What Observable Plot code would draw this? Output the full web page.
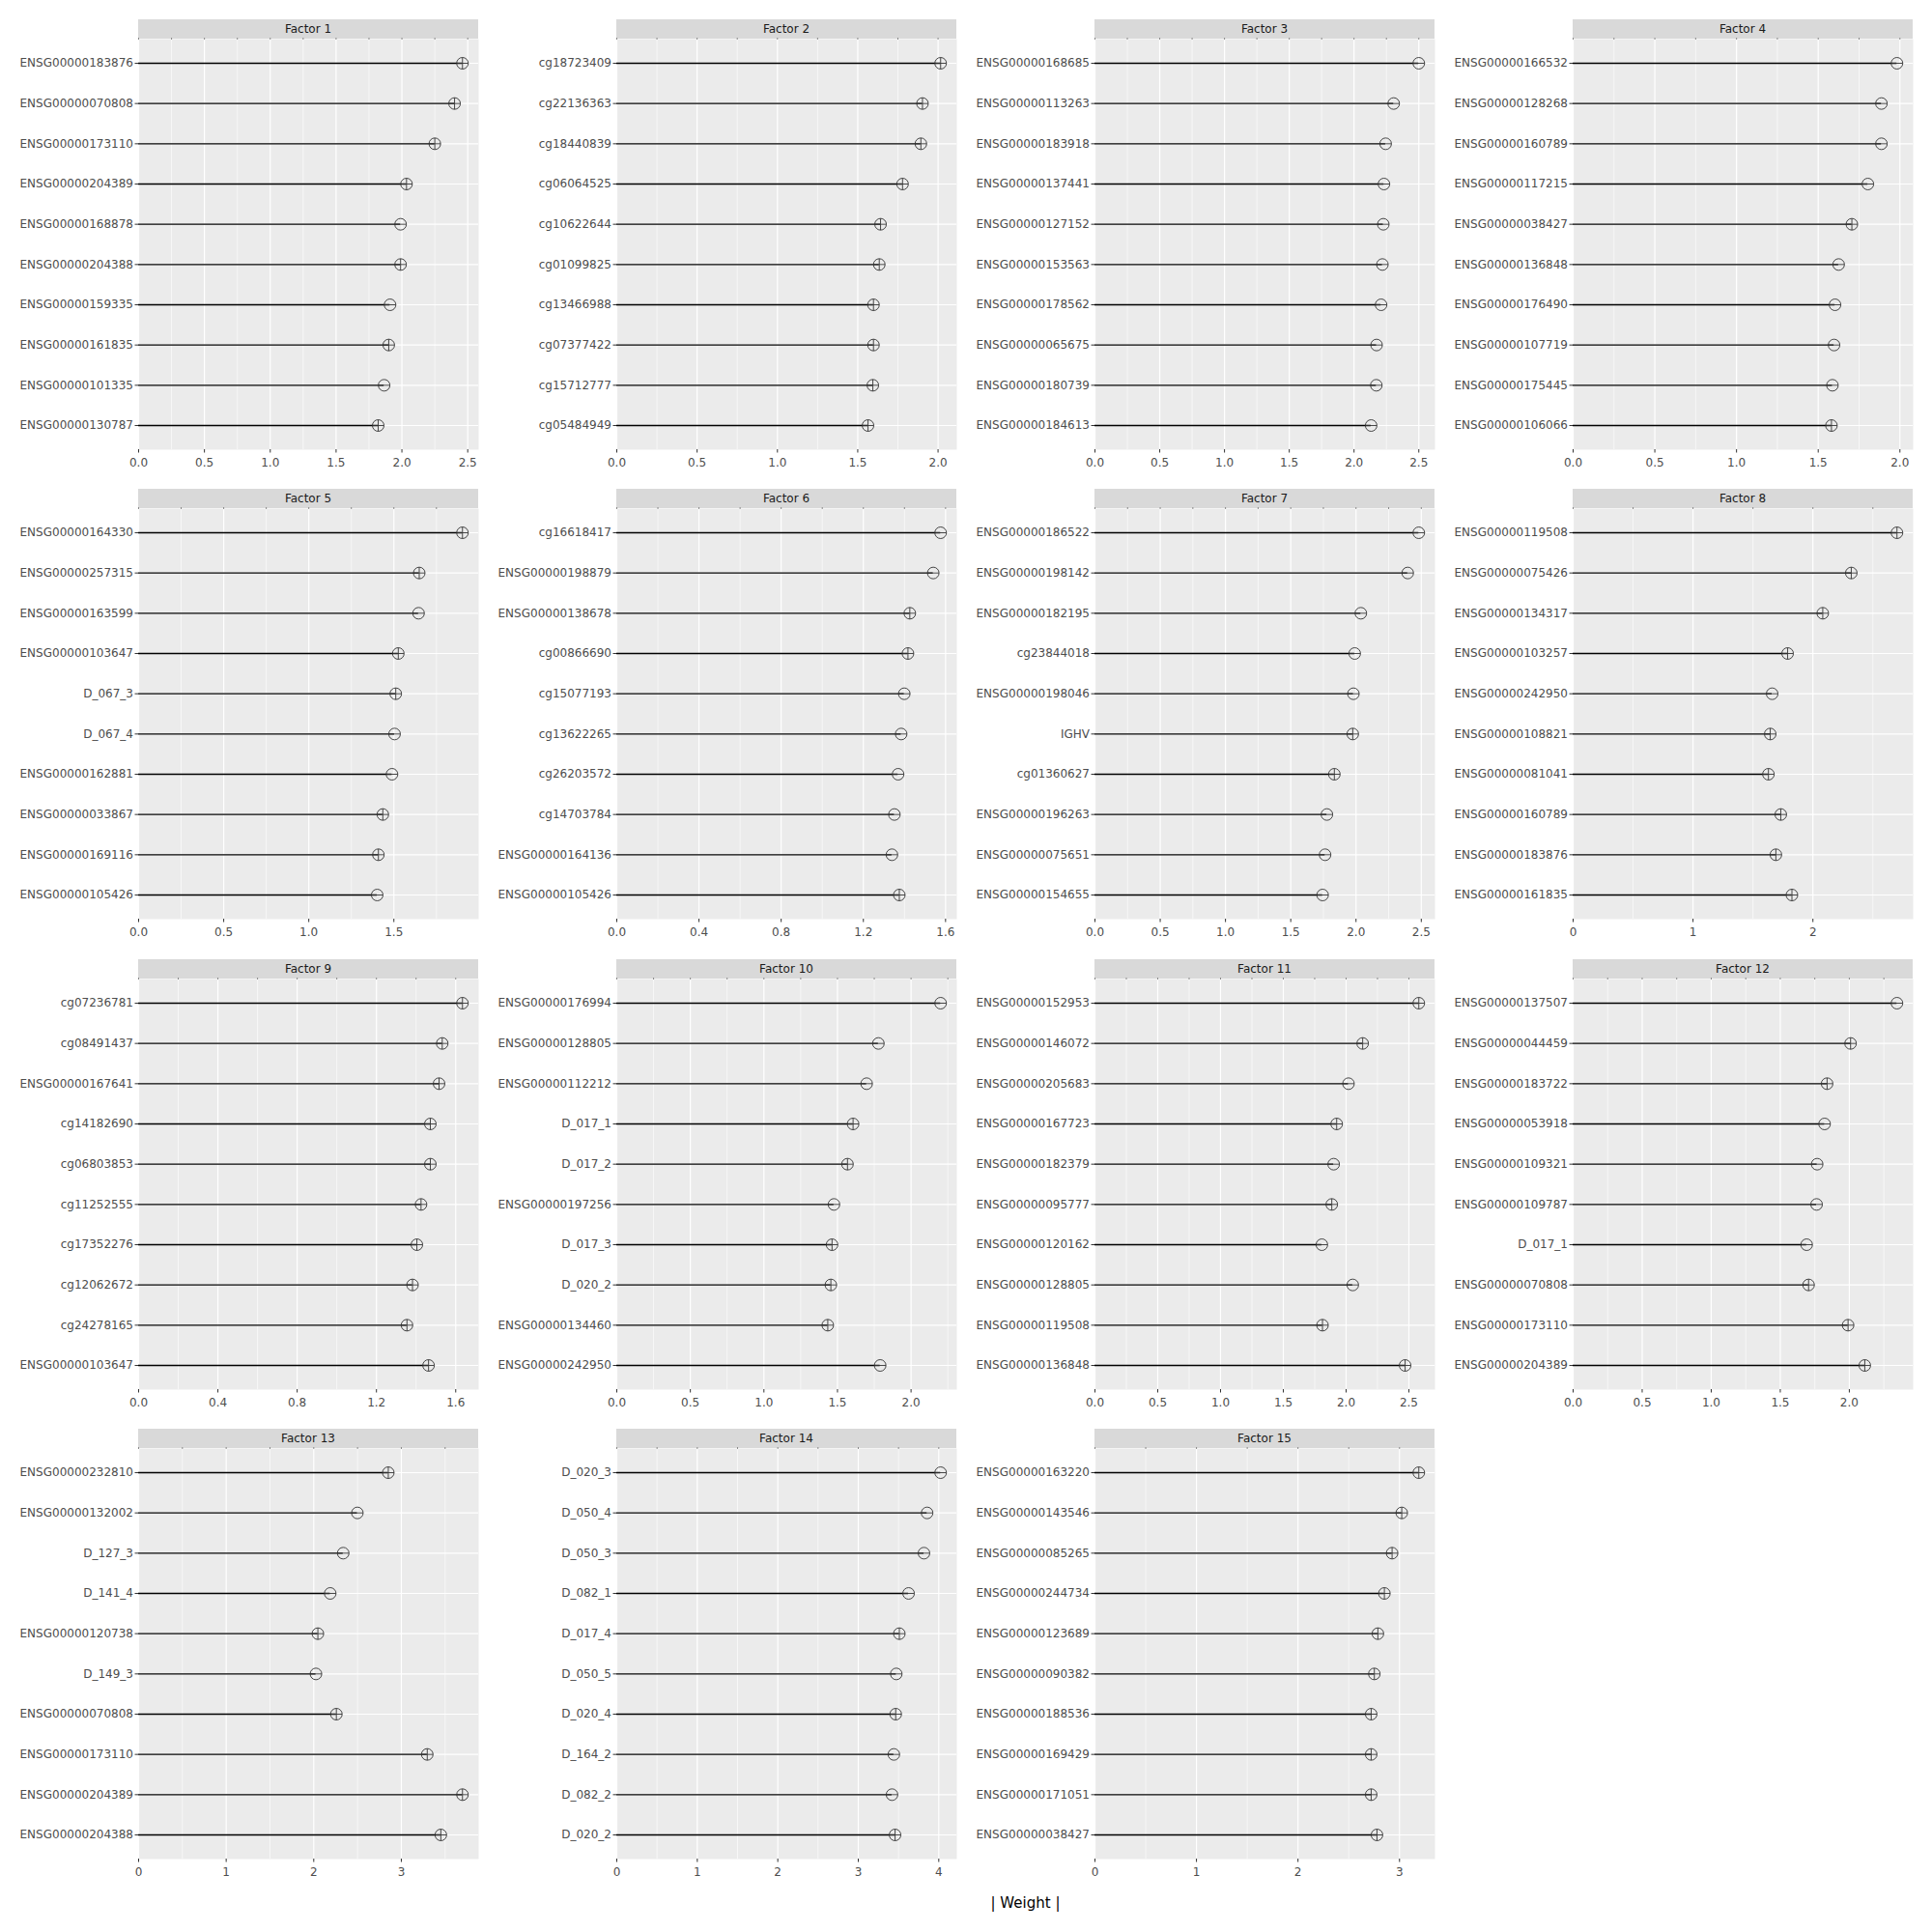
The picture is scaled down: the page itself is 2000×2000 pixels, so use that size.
<!DOCTYPE html>
<html><head><meta charset="utf-8">
<script src="https://cdn.jsdelivr.net/npm/d3@7"></script>
<script src="https://cdn.jsdelivr.net/npm/@observablehq/plot@0.6"></script>
<style>
body{margin:0;background:#fff;}
#chart{position:relative;width:2000px;height:2000px;font-family:"DejaVu Sans",sans-serif;}
.strip{position:absolute;height:20px;background:#d9d9d9;color:#1a1a1a;font-size:12px;line-height:20px;text-align:center;}
.panel{position:absolute;}
#xtitle{position:absolute;left:143px;width:1837px;top:1961px;line-height:18px;text-align:center;font-size:15px;color:#000;}
</style></head><body><div id="chart"><div id="xtitle">| Weight |</div></div>
<script>
const factors = ["Factor 1","Factor 2","Factor 3","Factor 4","Factor 5","Factor 6","Factor 7","Factor 8","Factor 9","Factor 10","Factor 11","Factor 12","Factor 13","Factor 14","Factor 15"];

const features = [
  ["ENSG00000183876","ENSG00000070808","ENSG00000173110","ENSG00000204389","ENSG00000168878","ENSG00000204388","ENSG00000159335","ENSG00000161835","ENSG00000101335","ENSG00000130787"],
  ["cg18723409","cg22136363","cg18440839","cg06064525","cg10622644","cg01099825","cg13466988","cg07377422","cg15712777","cg05484949"],
  ["ENSG00000168685","ENSG00000113263","ENSG00000183918","ENSG00000137441","ENSG00000127152","ENSG00000153563","ENSG00000178562","ENSG00000065675","ENSG00000180739","ENSG00000184613"],
  ["ENSG00000166532","ENSG00000128268","ENSG00000160789","ENSG00000117215","ENSG00000038427","ENSG00000136848","ENSG00000176490","ENSG00000107719","ENSG00000175445","ENSG00000106066"],
  ["ENSG00000164330","ENSG00000257315","ENSG00000163599","ENSG00000103647","D_067_3","D_067_4","ENSG00000162881","ENSG00000033867","ENSG00000169116","ENSG00000105426"],
  ["cg16618417","ENSG00000198879","ENSG00000138678","cg00866690","cg15077193","cg13622265","cg26203572","cg14703784","ENSG00000164136","ENSG00000105426"],
  ["ENSG00000186522","ENSG00000198142","ENSG00000182195","cg23844018","ENSG00000198046","IGHV","cg01360627","ENSG00000196263","ENSG00000075651","ENSG00000154655"],
  ["ENSG00000119508","ENSG00000075426","ENSG00000134317","ENSG00000103257","ENSG00000242950","ENSG00000108821","ENSG00000081041","ENSG00000160789","ENSG00000183876","ENSG00000161835"],
  ["cg07236781","cg08491437","ENSG00000167641","cg14182690","cg06803853","cg11252555","cg17352276","cg12062672","cg24278165","ENSG00000103647"],
  ["ENSG00000176994","ENSG00000128805","ENSG00000112212","D_017_1","D_017_2","ENSG00000197256","D_017_3","D_020_2","ENSG00000134460","ENSG00000242950"],
  ["ENSG00000152953","ENSG00000146072","ENSG00000205683","ENSG00000167723","ENSG00000182379","ENSG00000095777","ENSG00000120162","ENSG00000128805","ENSG00000119508","ENSG00000136848"],
  ["ENSG00000137507","ENSG00000044459","ENSG00000183722","ENSG00000053918","ENSG00000109321","ENSG00000109787","D_017_1","ENSG00000070808","ENSG00000173110","ENSG00000204389"],
  ["ENSG00000232810","ENSG00000132002","D_127_3","D_141_4","ENSG00000120738","D_149_3","ENSG00000070808","ENSG00000173110","ENSG00000204389","ENSG00000204388"],
  ["D_020_3","D_050_4","D_050_3","D_082_1","D_017_4","D_050_5","D_020_4","D_164_2","D_082_2","D_020_2"],
  ["ENSG00000163220","ENSG00000143546","ENSG00000085265","ENSG00000244734","ENSG00000123689","ENSG00000090382","ENSG00000188536","ENSG00000169429","ENSG00000171051","ENSG00000038427"]
];

const weights = [
  [2.46,2.40,2.25,2.035,1.99,1.99,1.91,1.90,1.865,1.82],
  [2.016,1.903,1.893,1.779,1.642,1.634,1.598,1.598,1.594,1.564],
  [2.50,2.306,2.244,2.231,2.226,2.219,2.209,2.174,2.172,2.132],
  [1.982,1.887,1.887,1.804,1.706,1.625,1.603,1.597,1.587,1.581],
  [1.903,1.649,1.645,1.526,1.511,1.504,1.489,1.435,1.409,1.402],
  [1.576,1.540,1.426,1.417,1.399,1.384,1.369,1.351,1.339,1.375],
  [2.481,2.396,2.037,1.990,1.980,1.975,1.834,1.777,1.763,1.744],
  [2.701,2.320,2.082,1.789,1.660,1.644,1.629,1.732,1.691,1.825],
  [1.634,1.532,1.516,1.472,1.472,1.425,1.404,1.382,1.354,1.463],
  [2.201,1.778,1.698,1.606,1.568,1.476,1.463,1.455,1.434,1.790],
  [2.579,2.132,2.019,1.925,1.901,1.886,1.807,2.053,1.812,2.470],
  [2.345,2.009,1.839,1.821,1.767,1.763,1.691,1.705,1.991,2.112],
  [2.851,2.498,2.336,2.188,2.047,2.025,2.258,3.296,3.698,3.451],
  [4.023,3.855,3.816,3.625,3.510,3.472,3.465,3.442,3.419,3.457],
  [3.190,3.022,2.927,2.851,2.787,2.752,2.721,2.721,2.721,2.778]
];

const signs = [
  [1,1,1,1,-1,1,-1,1,-1,1],
  [1,1,1,1,1,1,1,1,1,1],
  [-1,-1,-1,-1,-1,-1,-1,-1,-1,-1],
  [-1,-1,-1,-1,1,-1,-1,-1,-1,1],
  [1,1,-1,1,1,-1,-1,1,1,-1],
  [-1,-1,1,1,-1,-1,-1,-1,-1,1],
  [-1,-1,-1,-1,-1,1,1,-1,-1,-1],
  [1,1,1,1,-1,1,1,1,1,1],
  [1,1,1,1,1,1,1,1,1,1],
  [-1,-1,-1,1,1,-1,1,1,1,-1],
  [1,1,-1,1,-1,1,-1,-1,1,1],
  [-1,1,1,-1,-1,-1,-1,1,1,1],
  [1,-1,-1,-1,1,-1,1,1,1,1],
  [-1,-1,-1,-1,1,-1,1,-1,-1,1],
  [1,1,1,1,1,1,1,1,1,1]
];

const xTicks = [
  [0,0.5,1,1.5,2,2.5],
  [0,0.5,1,1.5,2],
  [0,0.5,1,1.5,2,2.5],
  [0,0.5,1,1.5,2],
  [0,0.5,1,1.5],
  [0,0.4,0.8,1.2,1.6],
  [0,0.5,1,1.5,2,2.5],
  [0,1,2],
  [0,0.4,0.8,1.2,1.6],
  [0,0.5,1,1.5,2],
  [0,0.5,1,1.5,2,2.5],
  [0,0.5,1,1.5,2],
  [0,1,2,3],
  [0,1,2,3,4],
  [0,1,2,3]
];

const circlePlus = {draw(ctx, size){const r=Math.sqrt(size/Math.PI);ctx.moveTo(r,0);ctx.arc(0,0,r,0,2*Math.PI);ctx.moveTo(-r,0);ctx.lineTo(r,0);ctx.moveTo(0,-r);ctx.lineTo(0,r);}};
const circleMinus = {draw(ctx, size){const r=Math.sqrt(size/Math.PI);ctx.moveTo(r,0);ctx.arc(0,0,r,0,2*Math.PI);ctx.moveTo(-r,0);ctx.lineTo(r,0);}};

const chart = document.getElementById("chart");
const PW = 352, PH = 425, ML = 143, MB = 30;

factors.forEach((name, i) => {
  const col = i % 4, row = Math.floor(i / 4);
  const left = 495 * col;
  const top = Math.round(20 + 486.3 * row);
  const data = features[i].map((f, j) => ({feature: f, weight: weights[i][j], sign: signs[i][j]}));
  const xmax = d3.max(weights[i]) * 1.05;
  const ticks = xTicks[i];
  const step = ticks[1] - ticks[0];
  const minor = [];
  for (let k = 0; k < ticks.length; k++) {
    const m = ticks[k] + step / 2;
    if (m <= xmax) minor.push(m);
  }
  const grid = ticks.concat(minor);
  const isInt = ticks.every(t => Number.isInteger(t));
  const fmt = isInt ? d3.format("d") : d3.format(".1f");

  const strip = document.createElement("div");
  strip.className = "strip";
  strip.style.left = (left + ML) + "px";
  strip.style.top = top + "px";
  strip.style.width = PW + "px";
  strip.textContent = name;
  chart.appendChild(strip);

  const svg = Plot.plot({
    width: ML + PW, height: PH + MB,
    marginLeft: ML, marginRight: 0, marginTop: 0, marginBottom: MB,
    style: {fontFamily: "DejaVu Sans", fontSize: "12px", background: "transparent", color: "#4d4d4d", overflow: "visible"},
    x: {domain: [0, xmax], label: null},
    y: {type: "point", domain: features[i], padding: 0.6, round: false, label: null},
    marks: [
      Plot.frame({fill: "#ebebeb", stroke: "none"}),
      Plot.ruleX(minor, {stroke: "white", strokeWidth: 0.6}),
      Plot.ruleX(ticks, {stroke: "white", strokeWidth: 1.2}),
      Plot.ruleY(features[i], {stroke: "white", strokeWidth: 1.2}),
      Plot.ruleY(data, {y: "feature", x1: 0, x2: "weight", stroke: "black", strokeWidth: 1.3}),
      Plot.dot(data.filter(d => d.sign > 0), {x: "weight", y: "feature", r: 6, symbol: circlePlus, stroke: "#333", strokeWidth: 0.9, fill: "none"}),
      Plot.dot(data.filter(d => d.sign < 0), {x: "weight", y: "feature", r: 6, symbol: circleMinus, stroke: "#333", strokeWidth: 0.9, fill: "none"}),
      Plot.axisX({ticks: ticks, tickFormat: fmt, tickSize: 3.5, tickPadding: 5, stroke: "#333", fill: "#4d4d4d", fontSize: 12, label: null}),
      Plot.axisX({anchor: "top", ticks: grid, tickSize: 2, tickFormat: () => "", stroke: "#888", label: null}),
      Plot.axisY({tickSize: 3.5, tickPadding: 2, stroke: "#333", fill: "#4d4d4d", fontSize: 12, label: null})
    ]
  });
  svg.classList.add("panel");
  svg.style.left = left + "px";
  svg.style.top = (top + 20) + "px";
  chart.appendChild(svg);
});
</script>
</body></html>
